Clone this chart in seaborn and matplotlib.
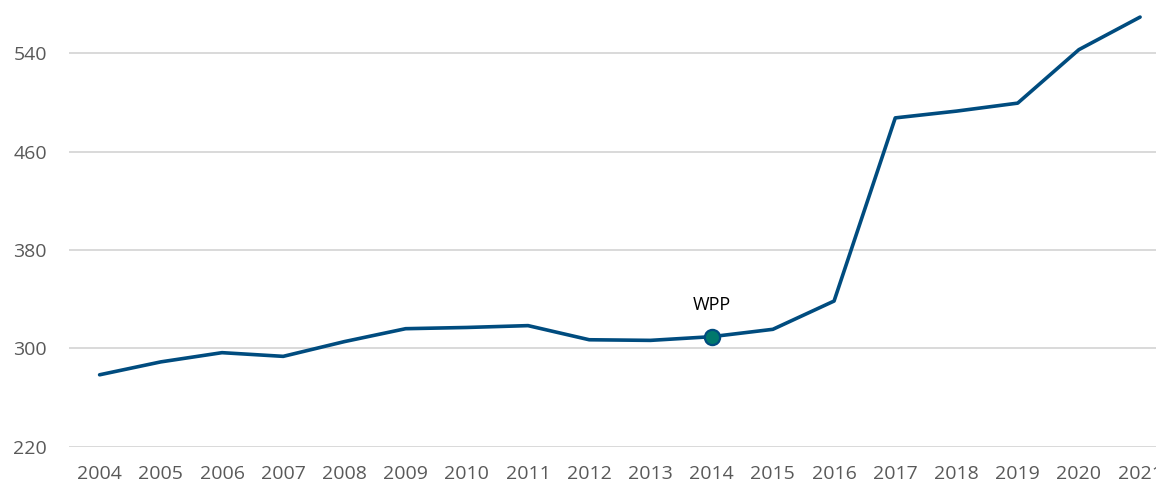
import pandas as pd
import matplotlib.pyplot as plt
import seaborn as sns

# yillar ve degerler
years = [2004, 2005, 2006, 2007, 2008, 2009, 2010, 2011, 2012,
         2013, 2014, 2015, 2016, 2017, 2018, 2019, 2020, 2021]
values = [278.5, 289, 296.5, 293.5, 305.5, 316, 317, 318.5, 307,
          306.5, 309.5, 315.5, 338.5, 487.5, 493, 499.5, 543, 569.5]
yticks = [220, 300, 380, 460, 540]
highlight_year = 2014
highlight_label = "WPP"

df = pd.DataFrame({"year": years, "value": values})

sns.set_style("white")
plt.rcParams['font.family'] = ['Open Sans', 'DejaVu Sans']

fig = plt.figure(figsize=(11.56, 4.86), dpi=100)
ax = fig.add_axes([69 / 1156, 1 - 446.7 / 486, 1 - 69 / 1156, 446.7 / 486])

sns.lineplot(data=df, x="year", y="value", color="#004C7F", linewidth=2.6, ax=ax)

# WPP noktasi
hv = df.loc[df["year"] == highlight_year, "value"].iloc[0]
ax.scatter([highlight_year], [hv], s=120, color="#00786C", edgecolor="#004C7F",
           linewidth=1.6, zorder=5)
ax.annotate(highlight_label, (highlight_year, hv), xytext=(0, 16), textcoords="offset points",
            ha="center", va="bottom", fontsize=13, color="black")

ax.set_xlim(2003.5, 2021.26)
ax.set_ylim(220, 583.4)
ax.set_xticks(years)
ax.set_yticks(yticks)
ax.grid(axis="y", color="#d9d9d9", linewidth=1.4)
ax.set_axisbelow(True)
for s in ax.spines.values():
    s.set_visible(False)
ax.tick_params(axis="both", length=0, labelsize=14, labelcolor="#595959")
ax.tick_params(axis="x", pad=13)
ax.tick_params(axis="y", pad=16)
ax.set_xlabel("")
ax.set_ylabel("")

fig.savefig("out.png", dpi=100)
